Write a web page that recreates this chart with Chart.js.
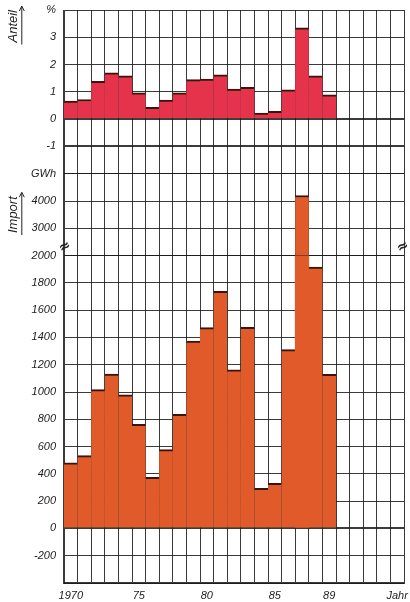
<!DOCTYPE html>
<html>
<head>
<meta charset="utf-8">
<script src="https://cdn.jsdelivr.net/npm/chart.js@4/dist/chart.umd.min.js"></script>
<style>
html, body { margin: 0; padding: 0; background: #fff; }
#wrap { width: 410px; height: 602px; position: relative; }
</style>
</head>
<body>
<div id="wrap"><canvas id="myChart"></canvas></div>
<script>
// categories (grid runs on past the data up to "Jahr")
const years = ['1970','1971','1972','1973','1974','1975','1976','1977','1978','1979',
               '1980','1981','1982','1983','1984','1985','1986','1987','1988','1989',
               '1990','1991','1992','1993','1994'];
const xTickLabels = ['1970','','','','','75','','','','','80','','','','','85','','','','89','','','','','Jahr'];

// Anteil in %
const anteil = [0.66, 0.72, 1.39, 1.70, 1.59, 0.96, 0.43, 0.70, 0.96, 1.45,
                1.47, 1.62, 1.10, 1.17, 0.22, 0.29, 1.07, 3.35, 1.59, 0.89];
// Import in GWh
const importGWh = [480, 534, 1017, 1132, 980, 763, 375, 578, 837, 1373,
                   1472, 1738, 1162, 1474, 294, 331, 1311, 4200, 1916, 1130];

const anteilTicks = { 4: '%', 3: '3', 2: '2', 1: '1', 0: '0', '-1': '-1' };
const importUpperTicks = { 5000: 'GWh', 4000: '4000', 3000: '3000' };
const axisBreak = 2000;   // scale changes above this value

const red = '#e5334b';
const orange = '#e05b29';
const edge = '#3a140a';
const gridCol = 'rgba(25,25,25,0.85)';
const font = { family: 'Liberation Sans', style: 'italic', size: 11 };
const titleFont = { family: 'Liberation Sans', style: 'italic', size: 13 };

const importLow = importGWh.map(v => Math.min(v, axisBreak));
const importHigh = importGWh.map(v => v > axisBreak ? [axisBreak, v] : null);

const fixWidth = s => { s.width = 60; s.paddingTop = 0; s.paddingBottom = 0; };

const gridOpts = (bold) => ({
    color: gridCol,
    lineWidth: c => bold.includes(c.tick && c.tick.value) ? 2 : 1,
    drawTicks: false
});

const extras = {
    id: 'extras',
    afterDraw(chart) {
        const ctx = chart.ctx;
        const area = chart.chartArea;
        ctx.save();
        // arrows next to the axis titles
        [['y', 'end'], ['yU', 'center']].forEach(([id, align]) => {
            const s = chart.scales[id];
            const t = s.options.title;
            ctx.font = 'italic 13px "Liberation Sans"';
            const w = ctx.measureText(t.text).width;
            const cx = s.left + 2 + 13 * 1.2 / 2;
            const top = align === 'end' ? s.top : (s.top + s.bottom) / 2 - w / 2;
            const lx = cx + 8;
            ctx.strokeStyle = '#222';
            ctx.lineWidth = 1;
            ctx.beginPath();
            ctx.moveTo(lx, top + w + 2);
            ctx.lineTo(lx, top - 3);
            ctx.stroke();
            ctx.beginPath();
            ctx.moveTo(lx - 2.5, top + 1);
            ctx.lineTo(lx, top - 4);
            ctx.lineTo(lx + 2.5, top + 1);
            ctx.stroke();
        });
        // axis break marks
        const yb = chart.scales.yU.getPixelForValue(2500) + 5;
        ctx.font = 'bold 14px "DejaVu Sans"';
        ctx.fillStyle = '#222';
        ctx.textAlign = 'center';
        ctx.textBaseline = 'middle';
        [area.left + 1, area.right - 1].forEach(x => {
            ctx.save();
            ctx.translate(x, yb);
            ctx.rotate(-0.5);
            ctx.fillText('\u2248', 0, 0);
            ctx.restore();
        });
        ctx.restore();
    }
};

const canvas = document.getElementById('myChart');
const chart = new Chart(canvas.getContext('2d'), {
    type: 'bar',
    data: {
        labels: years,
        datasets: [{
            label: 'Anteil',
            data: anteil,
            yAxisID: 'y',
            backgroundColor: red,
            borderColor: edge,
            borderWidth: { top: 2, right: 0, bottom: 0, left: 0 },
            borderSkipped: false
        }, {
            label: 'Import',
            data: importLow,
            yAxisID: 'yL',
            backgroundColor: orange,
            borderColor: edge,
            borderWidth: c => c.raw >= axisBreak ? 0 : { top: 2, right: 0, bottom: 0, left: 0 },
            borderSkipped: false
        }, {
            label: 'Import (oben)',
            data: importHigh,
            yAxisID: 'yU',
            backgroundColor: orange,
            borderColor: edge,
            borderWidth: { top: 2, right: 0, bottom: 0, left: 0 },
            borderSkipped: false
        }]
    },
    options: {
        responsive: true,
        maintainAspectRatio: false,
        animation: false,
        datasets: { bar: { grouped: false, barPercentage: 1, categoryPercentage: 1 } },
        layout: { padding: { left: 4, right: 6, top: 10, bottom: 0 } },
        plugins: { legend: { display: false }, tooltip: { enabled: false } },
        scales: {
            // stacked axes are placed bottom-up in the order given here
            yL: {
                position: 'left', stack: 'v', stackWeight: 12, z: 1,
                min: -400, max: 2000,
                afterFit: fixWidth,
                grid: gridOpts([0]),
                border: { color: gridCol, width: 1 },
                ticks: { stepSize: 200, autoSkip: false, padding: 8, color: '#222', font,
                         callback: v => v < -200 ? '' : String(v) }
            },
            yU: {
                position: 'left', stack: 'v', stackWeight: 3, z: 1,
                min: 2000, max: 5000,
                afterFit: fixWidth,
                grid: gridOpts([]),
                border: { color: gridCol, width: 1 },
                ticks: { stepSize: 1000, autoSkip: false, padding: 8, color: '#222', font,
                         callback: v => importUpperTicks[v] || '' },
                title: { display: true, text: 'Import', color: '#222', font: titleFont,
                         padding: { top: 2, bottom: 0 } }
            },
            y: {
                position: 'left', stack: 'v', stackWeight: 6, z: 1,
                min: -2, max: 4,
                afterFit: fixWidth,
                grid: gridOpts([0, -1]),
                border: { color: gridCol, width: 1 },
                ticks: { stepSize: 1, autoSkip: false, padding: 8, color: '#222', font,
                         callback: v => anteilTicks[v] || '' },
                title: { display: true, text: 'Anteil', align: 'end', color: '#222', font: titleFont,
                         padding: { top: 2, bottom: 0 } }
            },
            x: {
                z: 1,
                afterFit: s => { s.height = 19; s.paddingLeft = 0; s.paddingRight = 0; },
                grid: { color: gridCol, lineWidth: 1, offset: true, drawTicks: false },
                border: { color: gridCol, width: 2 },
                ticks: { autoSkip: false, maxRotation: 0, padding: 6, color: '#222', font,
                         callback: (v, i) => xTickLabels[i] }
            }
        }
    },
    plugins: [extras]
});
</script>
</body>
</html>
